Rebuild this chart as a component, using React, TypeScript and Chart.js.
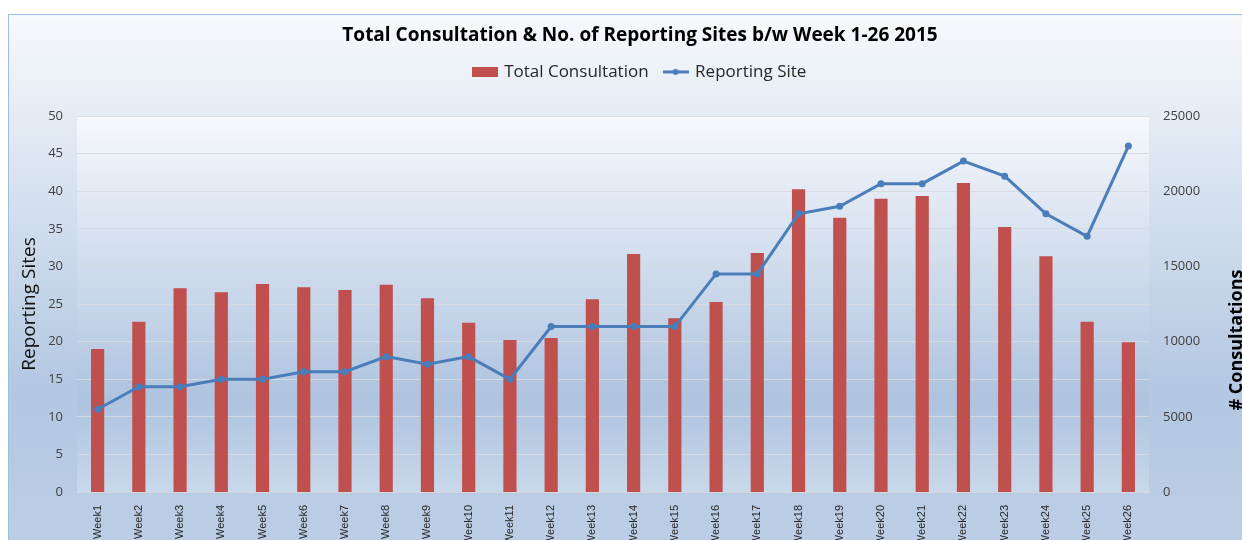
import React, { useEffect, useRef } from 'react';
import { Chart, registerables, layouts } from 'chart.js';

Chart.register(...registerables);

const weeks = [
  'Week1', 'Week2', 'Week3', 'Week4', 'Week5', 'Week6', 'Week7', 'Week8', 'Week9',
  'Week10', 'Week11', 'Week12', 'Week13', 'Week14', 'Week15', 'Week16', 'Week17',
  'Week18', 'Week19', 'Week20', 'Week21', 'Week22', 'Week23', 'Week24', 'Week25', 'Week26',
];
const totalConsultation = [
  9500, 11320, 13550, 13280, 13830, 13610, 13430, 13780, 12880,
  11260, 10110, 10240, 12810, 15820, 11550, 12630, 15890,
  20130, 18240, 19500, 19680, 20550, 17620, 15670, 11320, 9950,
];
const reportingSites = [
  11, 14, 14, 15, 15, 16, 16, 18, 17,
  18, 15, 22, 22, 22, 22, 29, 29,
  37, 38, 41, 41, 44, 42, 37, 34, 46,
];
const leftAxisMax = 50;
const leftAxisStep = 5;
const rightAxisMax = 25000;
const rightAxisStep = 5000;

const TITLE = 'Total Consultation & No. of Reporting Sites b/w Week 1-26 2015';
const LEFT_TITLE = 'Reporting Sites';
const RIGHT_TITLE = '# Consultations';
const SERIES_BAR = 'Total Consultation';
const SERIES_LINE = 'Reporting Site';

const W = 1280;
const H = 540;
const BAR_COLOR = '#c0504d';
const LINE_COLOR = '#4a7ebb';

export default function App() {
  const ref = useRef<HTMLCanvasElement | null>(null);

  useEffect(() => {
    const canvas = ref.current;
    if (!canvas) return;

    const mk = (draw: (c: CanvasRenderingContext2D) => void) => {
      const c = document.createElement('canvas');
      c.width = 26;
      c.height = 10;
      const x = c.getContext('2d')!;
      draw(x);
      return c;
    };
    const barImg = mk((c) => {
      c.fillStyle = BAR_COLOR;
      c.fillRect(0, 0, 26, 10);
    });
    const lineImg = mk((c) => {
      c.strokeStyle = LINE_COLOR;
      c.lineWidth = 3;
      c.beginPath();
      c.moveTo(0, 5);
      c.lineTo(26, 5);
      c.stroke();
      c.fillStyle = LINE_COLOR;
      c.beginPath();
      c.arc(13, 5, 3, 0, Math.PI * 2);
      c.fill();
    });

    const spacerPlugin = {
      id: 'spacer',
      beforeInit(chart: any) {
        const box: any = {
          position: 'top',
          weight: 0,
          fullSize: true,
          options: {},
          left: 0, top: 0, right: 0, bottom: 0, width: 0, height: 0,
          isHorizontal() { return true; },
          getPadding() { return { left: 0, right: 0, top: 0, bottom: 0 }; },
          update(maxWidth: number) {
            box.width = maxWidth;
            box.height = 25.6;
          },
          draw() {},
        };
        layouts.addBox(chart, box);
      },
    };

    const bgPlugin = {
      id: 'bg',
      beforeDraw(chart: any) {
        const ctx = chart.ctx as CanvasRenderingContext2D;
        const { left, top, right, bottom } = chart.chartArea;
        ctx.save();
        ctx.fillStyle = '#ffffff';
        ctx.fillRect(0, 0, W, H);
        const g = ctx.createLinearGradient(0, 14, 0, H);
        g.addColorStop(0, '#f7f9fc');
        g.addColorStop(0.72, '#b2c7e1');
        g.addColorStop(1, '#bccee5');
        ctx.fillStyle = g;
        ctx.fillRect(8, 14, W + 20, H + 20);
        ctx.strokeStyle = '#9dbde3';
        ctx.lineWidth = 1;
        ctx.strokeRect(8.5, 14.5, W + 20, H + 20);
        const pg = ctx.createLinearGradient(0, top, 0, bottom);
        pg.addColorStop(0, '#f6f8fc');
        pg.addColorStop(0.76, '#aec3df');
        pg.addColorStop(1, '#c9d8ea');
        ctx.fillStyle = pg;
        ctx.fillRect(left, top, right - left, bottom - top);
        ctx.restore();
      },
      afterDraw(chart: any) {
        const ctx = chart.ctx as CanvasRenderingContext2D;
        ctx.save();
        ctx.translate(1242, 340);
        ctx.rotate(-Math.PI / 2);
        ctx.font = 'bold 18px "Open Sans"';
        ctx.fillStyle = '#000000';
        ctx.textAlign = 'center';
        ctx.textBaseline = 'alphabetic';
        ctx.fillText(RIGHT_TITLE, 0, 0);
        ctx.restore();
      },
    };

    const chart = new Chart(canvas, {
      type: 'bar',
      data: {
        labels: weeks,
        datasets: [
          {
            type: 'bar',
            label: SERIES_BAR,
            data: totalConsultation,
            backgroundColor: BAR_COLOR,
            borderWidth: 0,
            yAxisID: 'y1',
            barPercentage: 0.32,
            categoryPercentage: 1.0,
            order: 1,
          },
          {
            type: 'line',
            label: SERIES_LINE,
            data: reportingSites,
            borderColor: LINE_COLOR,
            backgroundColor: LINE_COLOR,
            borderWidth: 3,
            pointRadius: 3.5,
            pointBackgroundColor: LINE_COLOR,
            pointBorderWidth: 0,
            tension: 0,
            yAxisID: 'y',
            order: 0,
          } as any,
        ],
      },
      options: {
        responsive: false,
        animation: false,
        devicePixelRatio: 1,
        layout: { padding: 0 },
        plugins: {
          tooltip: { enabled: false },
          title: {
            display: true,
            text: TITLE,
            color: '#000000',
            font: { family: '"Open Sans"', size: 19, weight: 'bold', lineHeight: 1.2 },
            padding: { top: 24.6, bottom: 0 },
          },
          legend: {
            display: true,
            position: 'top',
            labels: {
              usePointStyle: true,
              pointStyleWidth: 22,
              padding: 16,
              color: '#262626',
              font: { family: '"Open Sans"', size: 17 },
              sort: (a: any, b: any) => a.datasetIndex - b.datasetIndex,
              generateLabels: (ch: any) => {
                const base = Chart.defaults.plugins.legend.labels.generateLabels(ch);
                return base.map((it: any) => ({
                  ...it,
                  pointStyle: it.datasetIndex === 0 ? barImg : lineImg,
                }));
              },
            },
          },
        },
        scales: {
          x: {
            grid: { display: false },
            border: { display: true, color: '#d4d9e0' },
            ticks: {
              autoSkip: false,
              minRotation: 90,
              maxRotation: 90,
              padding: 5,
              color: '#262626',
              font: { family: '"Liberation Sans"', size: 11 },
            },
            afterFit: (s: any) => { s.height = 48; },
          },
          y: {
            position: 'left',
            min: 0,
            max: leftAxisMax,
            ticks: {
              stepSize: leftAxisStep,
              padding: 14,
              color: '#404040',
              font: { family: '"Open Sans"', size: 13 },
            },
            grid: { color: 'rgba(214,218,224,0.9)', drawTicks: false, lineWidth: 1 },
            border: { display: false },
            title: {
              display: true,
              text: LEFT_TITLE,
              color: '#111111',
              font: { family: '"Open Sans"', size: 19, lineHeight: 1.2 },
              padding: { top: 18.6, bottom: 0 },
            },
            afterFit: (s: any) => { s.width = 77; },
          },
          y1: {
            position: 'right',
            min: 0,
            max: rightAxisMax,
            ticks: {
              stepSize: rightAxisStep,
              padding: 14,
              color: '#404040',
              font: { family: '"Open Sans"', size: 13 },
              callback: (v: any) => String(v),
            },
            grid: { display: false, drawTicks: false },
            border: { display: false },
            afterFit: (s: any) => { s.width = W - 1149; },
          },
        },
      },
      plugins: [spacerPlugin, bgPlugin],
    } as any);

    return () => chart.destroy();
  }, []);

  return (
    <div style={{ position: 'absolute', left: 0, top: 0, width: 1242, height: H, overflow: 'hidden' }}>
      <canvas ref={ref} width={W} height={H} style={{ display: 'block', width: W, height: H }} />
    </div>
  );
}
